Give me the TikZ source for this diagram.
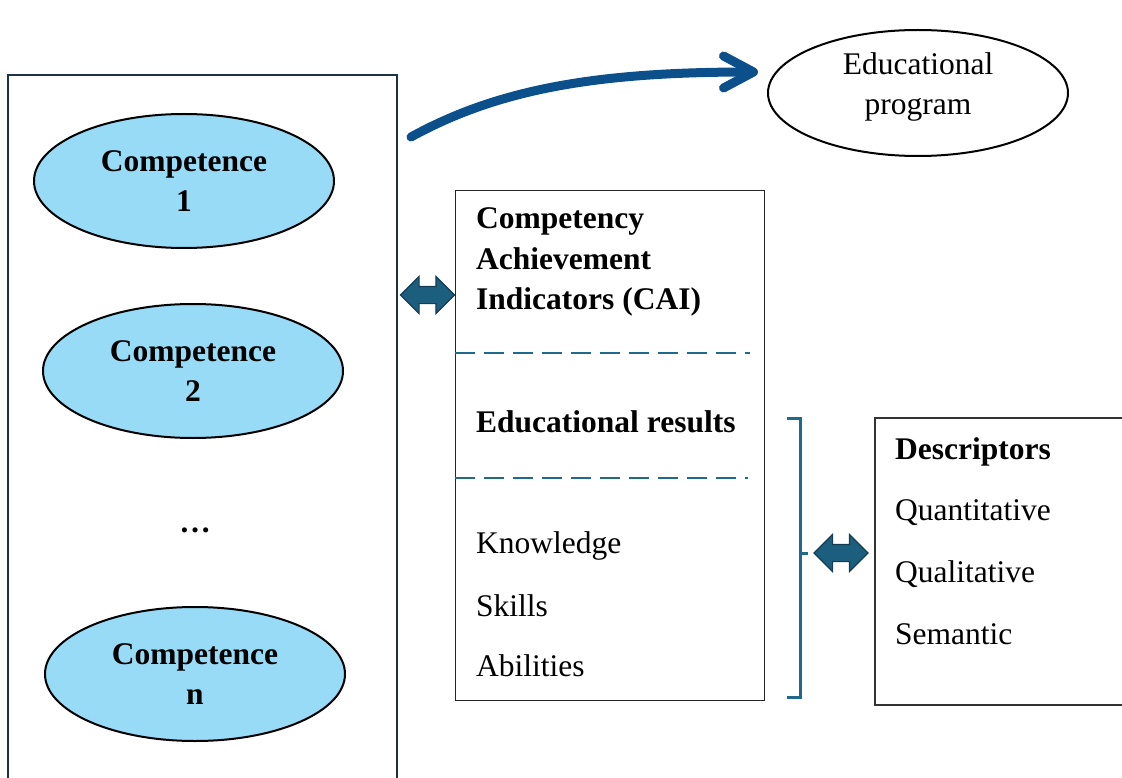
\documentclass[tikz,border=0pt]{standalone}
\usepackage{fontspec}
\setmainfont{Liberation Serif}
\usetikzlibrary{arrows.meta,shapes.geometric,shapes.arrows}

\definecolor{compblue}{HTML}{97DBF7}
\definecolor{navyline}{HTML}{1B3445}
\definecolor{arrowblue}{HTML}{0B4F8B}
\definecolor{tealline}{HTML}{1F6A8C}
\definecolor{dblfill}{HTML}{1B5E7E}
\definecolor{dbldraw}{HTML}{143C52}

\begin{document}
\begin{tikzpicture}
    [x=1pt,y=-1pt,
     every node/.style={font=\fontsize{31.5}{39.5}\selectfont,inner sep=0pt},
     comp/.style={ellipse,draw,line width=2pt,fill=compblue,minimum width=300pt,
       minimum height=134pt,align=center,font=\fontsize{31.5}{39.5}\selectfont\bfseries},
     txt/.style={anchor=west,align=left},
     btxt/.style={txt,font=\fontsize{31.5}{40.5}\selectfont\bfseries},
     dblarr/.style={double arrow,draw=dbldraw,line width=1.2pt,fill=dblfill,
       minimum height=54pt,inner ysep=8pt,double arrow head extend=10pt},
     sep/.style={tealline,line width=2.2pt,dash pattern=on 20pt off 9pt}]
    \useasboundingbox (0,0) rectangle (1122,778);
    % left frame with the competences
    \draw[navyline,line width=2.5pt] (8,778) -- (8,75) -- (397,75) -- (397,778);
    \node[comp] (c1) at (184,181) {Competence\\1};
    \node[comp] (c2) at (193,371) {Competence\\2};
    \node[font=\fontsize{31.5}{39.5}\selectfont\bfseries] (dots) at (195,530) {\dots};
    \node[comp] (cn) at (195,674) {Competence\\n};
    % educational program
    \node[ellipse,draw,line width=2pt,minimum width=300pt,minimum height=126pt] (prog) at (918,93) {};
    \node[align=center] (progtxt) at (918,87) {Educational\\program};
    \coordinate (arrs) at (411,137);
    \coordinate (arre) at (758,72);
    \draw[arrowblue,line width=9pt,line cap=round,
      -{Straight Barb[length=30pt,width=32pt,round]}]
      (arrs) .. controls (500,88) and (600,72) .. (arre);
    % indicators box
    \node[draw,line width=0.9pt,black!85,minimum width=309pt,minimum height=510pt] (cai) at (609.5,445) {};
    \node[btxt] (caitxt) at (476,262) {Competency\\Achievement\\Indicators (CAI)};
    \draw[sep] (455,353) -- (750,353);
    \node[btxt] (res) at (476,422) {Educational results};
    \draw[sep] (455,478) -- (748,478);
    \node[txt] (know) at (476,546) {Knowledge};
    \node[txt] (skill) at (476,606) {Skills};
    \node[txt] (abil) at (476,666) {Abilities};
    \node[dblarr] (da1) at (427.5,295) {};
    % bracket and descriptors
    \draw[tealline,line width=3pt] (787,418) -- (800,418) -- (800,697) -- (787,697);
    \draw[tealline,line width=3pt] (800,553) -- (808,553);
    \node[dblarr] (da2) at (841,553) {};
    \draw[line width=1.5pt,black!80] (1122,418) -- (875,418) -- (875,705) -- (1122,705);
    \node[btxt] (desc) at (895,452) {Descriptors};
    \node[txt] (quan) at (895,513) {Quantitative};
    \node[txt] (qual) at (895,574) {Qualitative};
    \node[txt] (sem) at (895,634) {Semantic};
\end{tikzpicture}
\end{document}
